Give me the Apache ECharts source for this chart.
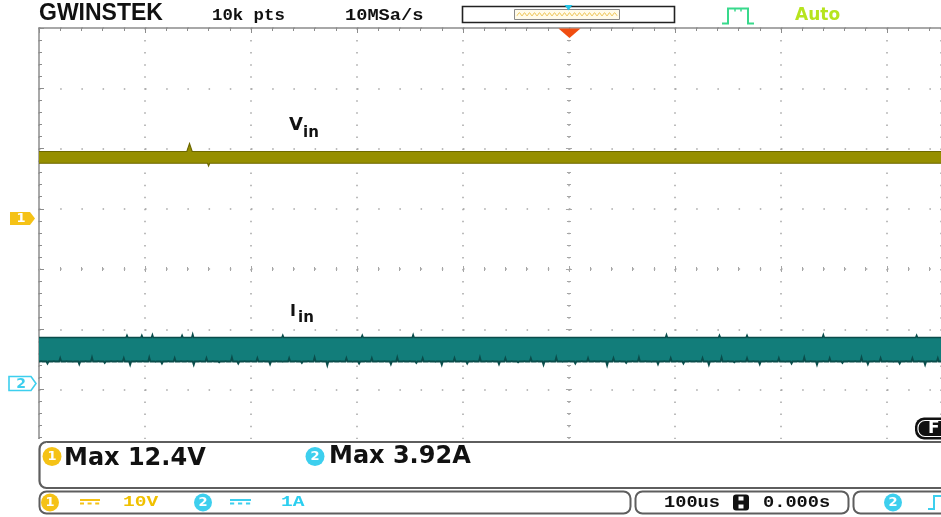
<!DOCTYPE html>
<html>
<head>
<meta charset="utf-8">
<script src="https://cdn.jsdelivr.net/npm/echarts@6/dist/echarts.min.js"></script>
<style>
  html, body { margin: 0; padding: 0; background: #fff; }
  #scope { width: 941px; height: 517px; }
</style>
</head>
<body>
<div id="scope"></div>
<script>
// Horizontal: 100 us/div, trigger point at t = 0 (screen centre)
const timeMin = -500, timeMax = 351, timeDiv = 100;
// Vertical graticule in divisions
const divMin = -4, divMax = 4;

// Channel 1: Vin, 10 V/div
const ch1VoltsPerDiv = 10;
const ch1OffsetDiv = 0.84;
const vinTopBase = 11.1;
const vinBottomBase = 9.15;
const vinTopSpikeT = [-358];
const vinTopSpikeV = [12.4];
const vinBottomSpikeT = [-340];
const vinBottomSpikeV = [8.7];

// Channel 2: Iin, 1 A/div
const ch2AmpsPerDiv = 1;
const ch2OffsetDiv = -1.90;
const iinTopBase = 0.763;
const iinBottomBase = 0.365;
const iinTopSpikeT = [-417, -403, -393, -365, -355, -270, -195, -147, 92, 142, 168, 240, 328];
const iinTopSpikeV = [0.80, 0.80, 0.81, 0.80, 0.82, 0.80, 0.80, 0.81, 0.81, 0.80, 0.80, 0.81, 0.80];
// lower edge of the current band, one reading every 6 us from -498 us
const iinBottomStart = -498, iinBottomStep = 6;
const iinBottomV = [
  0.37,0.33,0.37,0.42,0.37,0.36,0.32,0.37,0.43,0.37,0.34,0.37,0.37,0.42,0.31,0.37,0.37,0.43,0.36,0.33,
  0.37,0.42,0.37,0.37,0.31,0.37,0.42,0.37,0.35,0.37,0.43,0.33,0.37,0.37,0.42,0.37,0.32,0.37,0.36,0.42,
  0.37,0.34,0.37,0.43,0.37,0.30,0.37,0.37,0.42,0.36,0.33,0.37,0.42,0.37,0.37,0.32,0.43,0.37,0.37,0.34,
  0.42,0.37,0.36,0.31,0.37,0.42,0.37,0.33,0.37,0.43,0.37,0.37,0.32,0.42,0.37,0.35,0.37,0.42,0.37,0.31,
  0.37,0.43,0.36,0.37,0.33,0.37,0.42,0.37,0.37,0.30,0.42,0.37,0.34,0.37,0.43,0.37,0.36,0.32,0.37,0.42,
  0.37,0.33,0.37,0.37,0.42,0.31,0.37,0.43,0.37,0.35,0.37,0.42,0.37,0.32,0.37,0.37,0.42,0.36,0.33,0.37,
  0.43,0.37,0.31,0.37,0.42,0.37,0.34,0.37,0.37,0.43,0.32,0.37,0.42,0.37,0.36,0.33,0.37,0.42,0.37,0.31,
  0.37,0.42
];

// Status / readout texts
const headerTexts = { points: '10k pts', rate: '10MSa/s', mode: 'Auto' };
const measureTexts = ['Max 12.4V', 'Max 3.92A'];
const ch1Scale = '10V', ch2Scale = '1A';
const timebaseText = '100us', delayText = '0.000s';

const YELLOW = '#f5c216', CYAN = '#3dcfee';
const GRID_DOT = '#a6a6a6', BORDER = '#8c8c8c';

// ---- helpers -------------------------------------------------------------
function edge(base, ts, vs, halfW) {
  const pts = [[timeMin, base]];
  ts.forEach((t, i) => { pts.push([t - halfW, base], [t, vs[i]], [t + halfW, base]); });
  pts.push([timeMax, base]);
  return pts;
}
const iinBottomT = iinBottomV.map((_, i) => iinBottomStart + i * iinBottomStep);

const vinTop = edge(vinTopBase, vinTopSpikeT, vinTopSpikeV, 2.5);
const vinBottom = edge(vinBottomBase, vinBottomSpikeT, vinBottomSpikeV, 1);
const iinTop = edge(iinTopBase, iinTopSpikeT, iinTopSpikeV, 0.9);
const iinBottom = edge(iinBottomBase, iinBottomT, iinBottomV, 1.0);

const ch1ToDiv = v => v / ch1VoltsPerDiv + ch1OffsetDiv;
const ch2ToDiv = a => a / ch2AmpsPerDiv + ch2OffsetDiv;

function bandSeries(name, top, bottom, toDiv, fill, stroke, topW, botW) {
  return {
    type: 'custom', name, xAxisIndex: 0, yAxisIndex: 0, clip: true, z: 5,
    data: [[0, 0]],
    renderItem(params, api) {
      const t = top.map(p => api.coord([p[0], toDiv(p[1])]));
      const b = bottom.map(p => api.coord([p[0], toDiv(p[1])]));
      return {
        type: 'group',
        children: [
          { type: 'polygon', shape: { points: t.concat(b.slice().reverse()) }, style: { fill } },
          { type: 'polyline', shape: { points: t }, style: { stroke, lineWidth: topW, fill: null } },
          { type: 'polyline', shape: { points: b }, style: { stroke, lineWidth: botW, fill: null } }
        ]
      };
    }
  };
}

function txt(x, y, text, font, fill, align, extra) {
  return Object.assign({
    type: 'text', x, y, z: 100,
    style: { text, font, fill, align: align || 'left', verticalAlign: 'middle',
             textAlign: align || 'left', textVerticalAlign: 'middle' }
  }, extra || {});
}
// monospaced readout font stretched to a given character pitch
function mono(x, y, text, size, fill, pitch) {
  return txt(x, y, text, 'bold ' + size + 'px "Liberation Mono"', fill, 'left',
             { scaleX: pitch / (0.6 * size) });
}
function badge(cx, cy, r, color, digit, size) {
  return [
    { type: 'circle', z: 100, shape: { cx, cy, r }, style: { fill: color } },
    txt(cx, cy + 0.5, digit, 'bold ' + size + 'px "DejaVu Sans"', '#fff', 'center')
  ];
}
function dcSymbol(x, y, w, color) {
  const seg = w / 5;
  return [
    { type: 'line', z: 100, shape: { x1: x, y1: y, x2: x + w, y2: y }, style: { stroke: color, lineWidth: 2 } },
    { type: 'line', z: 100, shape: { x1: x, y1: y + 3.5, x2: x + w, y2: y + 3.5 },
      style: { stroke: color, lineWidth: 2, lineDash: [seg, seg * 0.9] } }
  ];
}

// ---- axes ------------------------------------------------------------------
const centreX = inside => ({
  type: 'value', min: timeMin, max: timeMax, interval: timeDiv, position: 'bottom',
  axisLine: { show: true, onZero: true, onZeroAxisIndex: 0, lineStyle: { opacity: 0 } },
  axisTick: { show: true, inside, length: 3, lineStyle: { color: GRID_DOT, width: 1 } },
  minorTick: { show: true, splitNumber: 5, length: 2, lineStyle: { color: GRID_DOT, width: 1 } },
  axisLabel: { show: false }, splitLine: { show: false }
});
const centreY = inside => ({
  type: 'value', min: divMin, max: divMax, interval: 1, position: 'left',
  axisLine: { show: true, onZero: true, onZeroAxisIndex: 0, lineStyle: { opacity: 0 } },
  axisTick: { show: true, inside, length: 3, lineStyle: { color: GRID_DOT, width: 1 } },
  minorTick: { show: true, splitNumber: 5, length: 2, lineStyle: { color: GRID_DOT, width: 1 } },
  axisLabel: { show: false }, splitLine: { show: false }
});

// small zigzag drawn inside the memory bar
const wavePoints = [];
for (let x = 517, k = 0; x <= 617; x += 2.5, k++) wavePoints.push([x, k % 2 ? 12.8 : 15.8]);

const graphics = [
  // area under the graticule
  { type: 'rect', z: 90, shape: { x: 0, y: 439, width: 941, height: 78 }, style: { fill: '#fff' } },
  // measurement panel
  { type: 'rect', z: 95, shape: { x: 39.5, y: 442, width: 960, height: 46, r: 7 },
    style: { fill: '#fff', stroke: '#5e5e5e', lineWidth: 2.2 } },
  ...badge(52, 456.5, 9.5, YELLOW, '1', 13),
  txt(64, 458.5, measureTexts[0], 'bold 24px "DejaVu Sans"', '#111'),
  ...badge(315, 456.5, 9.5, CYAN, '2', 13),
  txt(329, 456.5, measureTexts[1], 'bold 24px "DejaVu Sans"', '#111'),

  // status bar
  { type: 'rect', z: 95, shape: { x: 39.5, y: 491.5, width: 591, height: 22, r: 7 },
    style: { fill: '#fff', stroke: '#5e5e5e', lineWidth: 2 } },
  { type: 'rect', z: 95, shape: { x: 635.5, y: 491.5, width: 213, height: 22, r: 7 },
    style: { fill: '#fff', stroke: '#5e5e5e', lineWidth: 2 } },
  { type: 'rect', z: 95, shape: { x: 853.5, y: 491.5, width: 200, height: 22, r: 7 },
    style: { fill: '#fff', stroke: '#5e5e5e', lineWidth: 2 } },
  ...badge(50, 502.5, 9, YELLOW, '1', 13),
  ...dcSymbol(80, 500, 20, YELLOW),
  mono(123, 502, ch1Scale, 15, '#f0c000', 11.7),
  ...badge(203, 502.5, 9, CYAN, '2', 13),
  ...dcSymbol(230, 500, 21, CYAN),
  mono(281, 502, ch2Scale, 15, '#2ccff0', 11.7),
  mono(664, 502.5, timebaseText, 16, '#111', 11.2),
  { type: 'rect', z: 100, shape: { x: 733, y: 494.5, width: 16, height: 16, r: 3 }, style: { fill: '#111' } },
  { type: 'rect', z: 101, shape: { x: 738.5, y: 496.5, width: 5, height: 4 }, style: { fill: '#fff' } },
  { type: 'rect', z: 101, shape: { x: 738.5, y: 504.5, width: 5, height: 4 }, style: { fill: '#fff' } },
  mono(763, 502.5, delayText, 16, '#111', 11.2),
  ...badge(893, 502.5, 9, CYAN, '2', 13),
  { type: 'polyline', z: 100, shape: { points: [[928, 509], [934, 509], [934, 496], [941, 496]] },
    style: { stroke: CYAN, lineWidth: 2, fill: null } },

  // header
  txt(39, 14, 'GWINSTEK', 'bold 23px "Liberation Sans"', '#111'),
  mono(212, 16, headerTexts.points, 17, '#111', 10.4),
  mono(345, 16, headerTexts.rate, 17, '#111', 11.2),
  { type: 'rect', z: 100, shape: { x: 462.5, y: 6.5, width: 212, height: 16 },
    style: { fill: '#fff', stroke: '#222', lineWidth: 1.6 } },
  { type: 'rect', z: 100, shape: { x: 514.5, y: 9.5, width: 105, height: 10 },
    style: { fill: '#fffbea', stroke: '#8a8a8a', lineWidth: 1 } },
  { type: 'polyline', z: 101, shape: { points: wavePoints, smooth: 0.4 }, style: { stroke: '#eec24a', lineWidth: 1, fill: null } },
  { type: 'polygon', z: 102, shape: { points: [[564.5, 5], [572.5, 5], [568.5, 10.5]] }, style: { fill: '#22c4e8' } },
  { type: 'polyline', z: 100, shape: { points: [[722, 23.5], [728, 23.5], [728, 8.5], [748, 8.5], [748, 23.5], [754, 23.5]] },
    style: { stroke: '#38d98c', lineWidth: 2, fill: null } },
  { type: 'line', z: 100, shape: { x1: 735, y1: 8.5, x2: 735, y2: 11.5 }, style: { stroke: '#38d98c', lineWidth: 1.5 } },
  { type: 'line', z: 100, shape: { x1: 741, y1: 8.5, x2: 741, y2: 11.5 }, style: { stroke: '#38d98c', lineWidth: 1.5 } },
  txt(795, 16, headerTexts.mode, 'bold 17px "DejaVu Sans"', '#b6e41e'),

  // trigger position marker
  { type: 'polygon', z: 100, shape: { points: [[558.5, 28.5], [580.5, 28.5], [569.5, 38]] }, style: { fill: '#f04d10' } },

  // channel ground markers
  { type: 'polygon', z: 100, shape: { points: [[10, 212], [30, 212], [35, 218.5], [30, 225], [10, 225]] },
    style: { fill: YELLOW } },
  txt(21, 219, '1', 'bold 13px "DejaVu Sans"', '#fff', 'center', { z: 101 }),
  { type: 'polygon', z: 100, shape: { points: [[9, 376.5], [31, 376.5], [36, 383.5], [31, 390.5], [9, 390.5]] },
    style: { fill: '#fff', stroke: CYAN, lineWidth: 1.6 } },
  txt(21, 384, '2', 'bold 14px "DejaVu Sans"', CYAN, 'center', { z: 101 }),

  // trace names
  txt(289, 125, 'V', 'bold 18px "DejaVu Sans"', '#111'),
  txt(303, 133, 'in', 'bold 15px "DejaVu Sans"', '#111'),
  txt(290, 312, 'I', 'bold 16px "DejaVu Sans"', '#111'),
  txt(298, 318, 'in', 'bold 15px "DejaVu Sans"', '#111'),

  // "F" soft-key tab
  { type: 'rect', z: 100, shape: { x: 915, y: 417.5, width: 44, height: 22, r: 9 }, style: { fill: '#111' } },
  { type: 'rect', z: 101, shape: { x: 918, y: 420.5, width: 38, height: 16, r: 7 },
    style: { fill: '#111', stroke: '#fff', lineWidth: 1.2 } },
  txt(928, 429, 'F', 'bold 17px "DejaVu Sans"', '#fff', 'left', { z: 103 })
];

const chart = echarts.init(document.getElementById('scope'), null, { renderer: 'canvas' });
chart.setOption({
  backgroundColor: '#fff',
  animation: false,
  grid: { left: 39, top: 28, right: 0, height: 482, containLabel: false, outerBoundsMode: 'none' },
  xAxis: [
    {
      type: 'value', min: timeMin, max: timeMax, interval: timeDiv, position: 'top',
      axisLine: { show: true, onZero: false, lineStyle: { color: BORDER, width: 1.5 } },
      axisTick: { show: true, inside: true, length: 5, lineStyle: { color: BORDER, width: 1 } },
      minorTick: { show: true, splitNumber: 5, length: 3, lineStyle: { color: BORDER, width: 1 } },
      axisLabel: { show: false },
      splitLine: { show: true, lineStyle: { color: GRID_DOT, width: 1.5, type: [1.5, 10.55] } }
    },
    centreX(true), centreX(false)
  ],
  yAxis: [
    {
      type: 'value', min: divMin, max: divMax, interval: 1, position: 'left',
      axisLine: { show: true, onZero: false, lineStyle: { color: BORDER, width: 1.5 } },
      axisTick: { show: true, inside: true, length: 5, lineStyle: { color: BORDER, width: 1 } },
      minorTick: { show: true, splitNumber: 5, length: 3, lineStyle: { color: BORDER, width: 1 } },
      axisLabel: { show: false },
      splitLine: { show: true, lineStyle: { color: GRID_DOT, width: 1.5, type: [1.5, 19.7] } }
    },
    centreY(true), centreY(false)
  ],
  series: [
    bandSeries('Vin', vinTop, vinBottom, ch1ToDiv, '#968f00', '#6d6800', 1.2, 1.2),
    bandSeries('Iin', iinTop, iinBottom, ch2ToDiv, '#127d7a', '#0a4d4b', 1.5, 1.8)
  ],
  graphic: { elements: graphics }
});
</script>
</body>
</html>
